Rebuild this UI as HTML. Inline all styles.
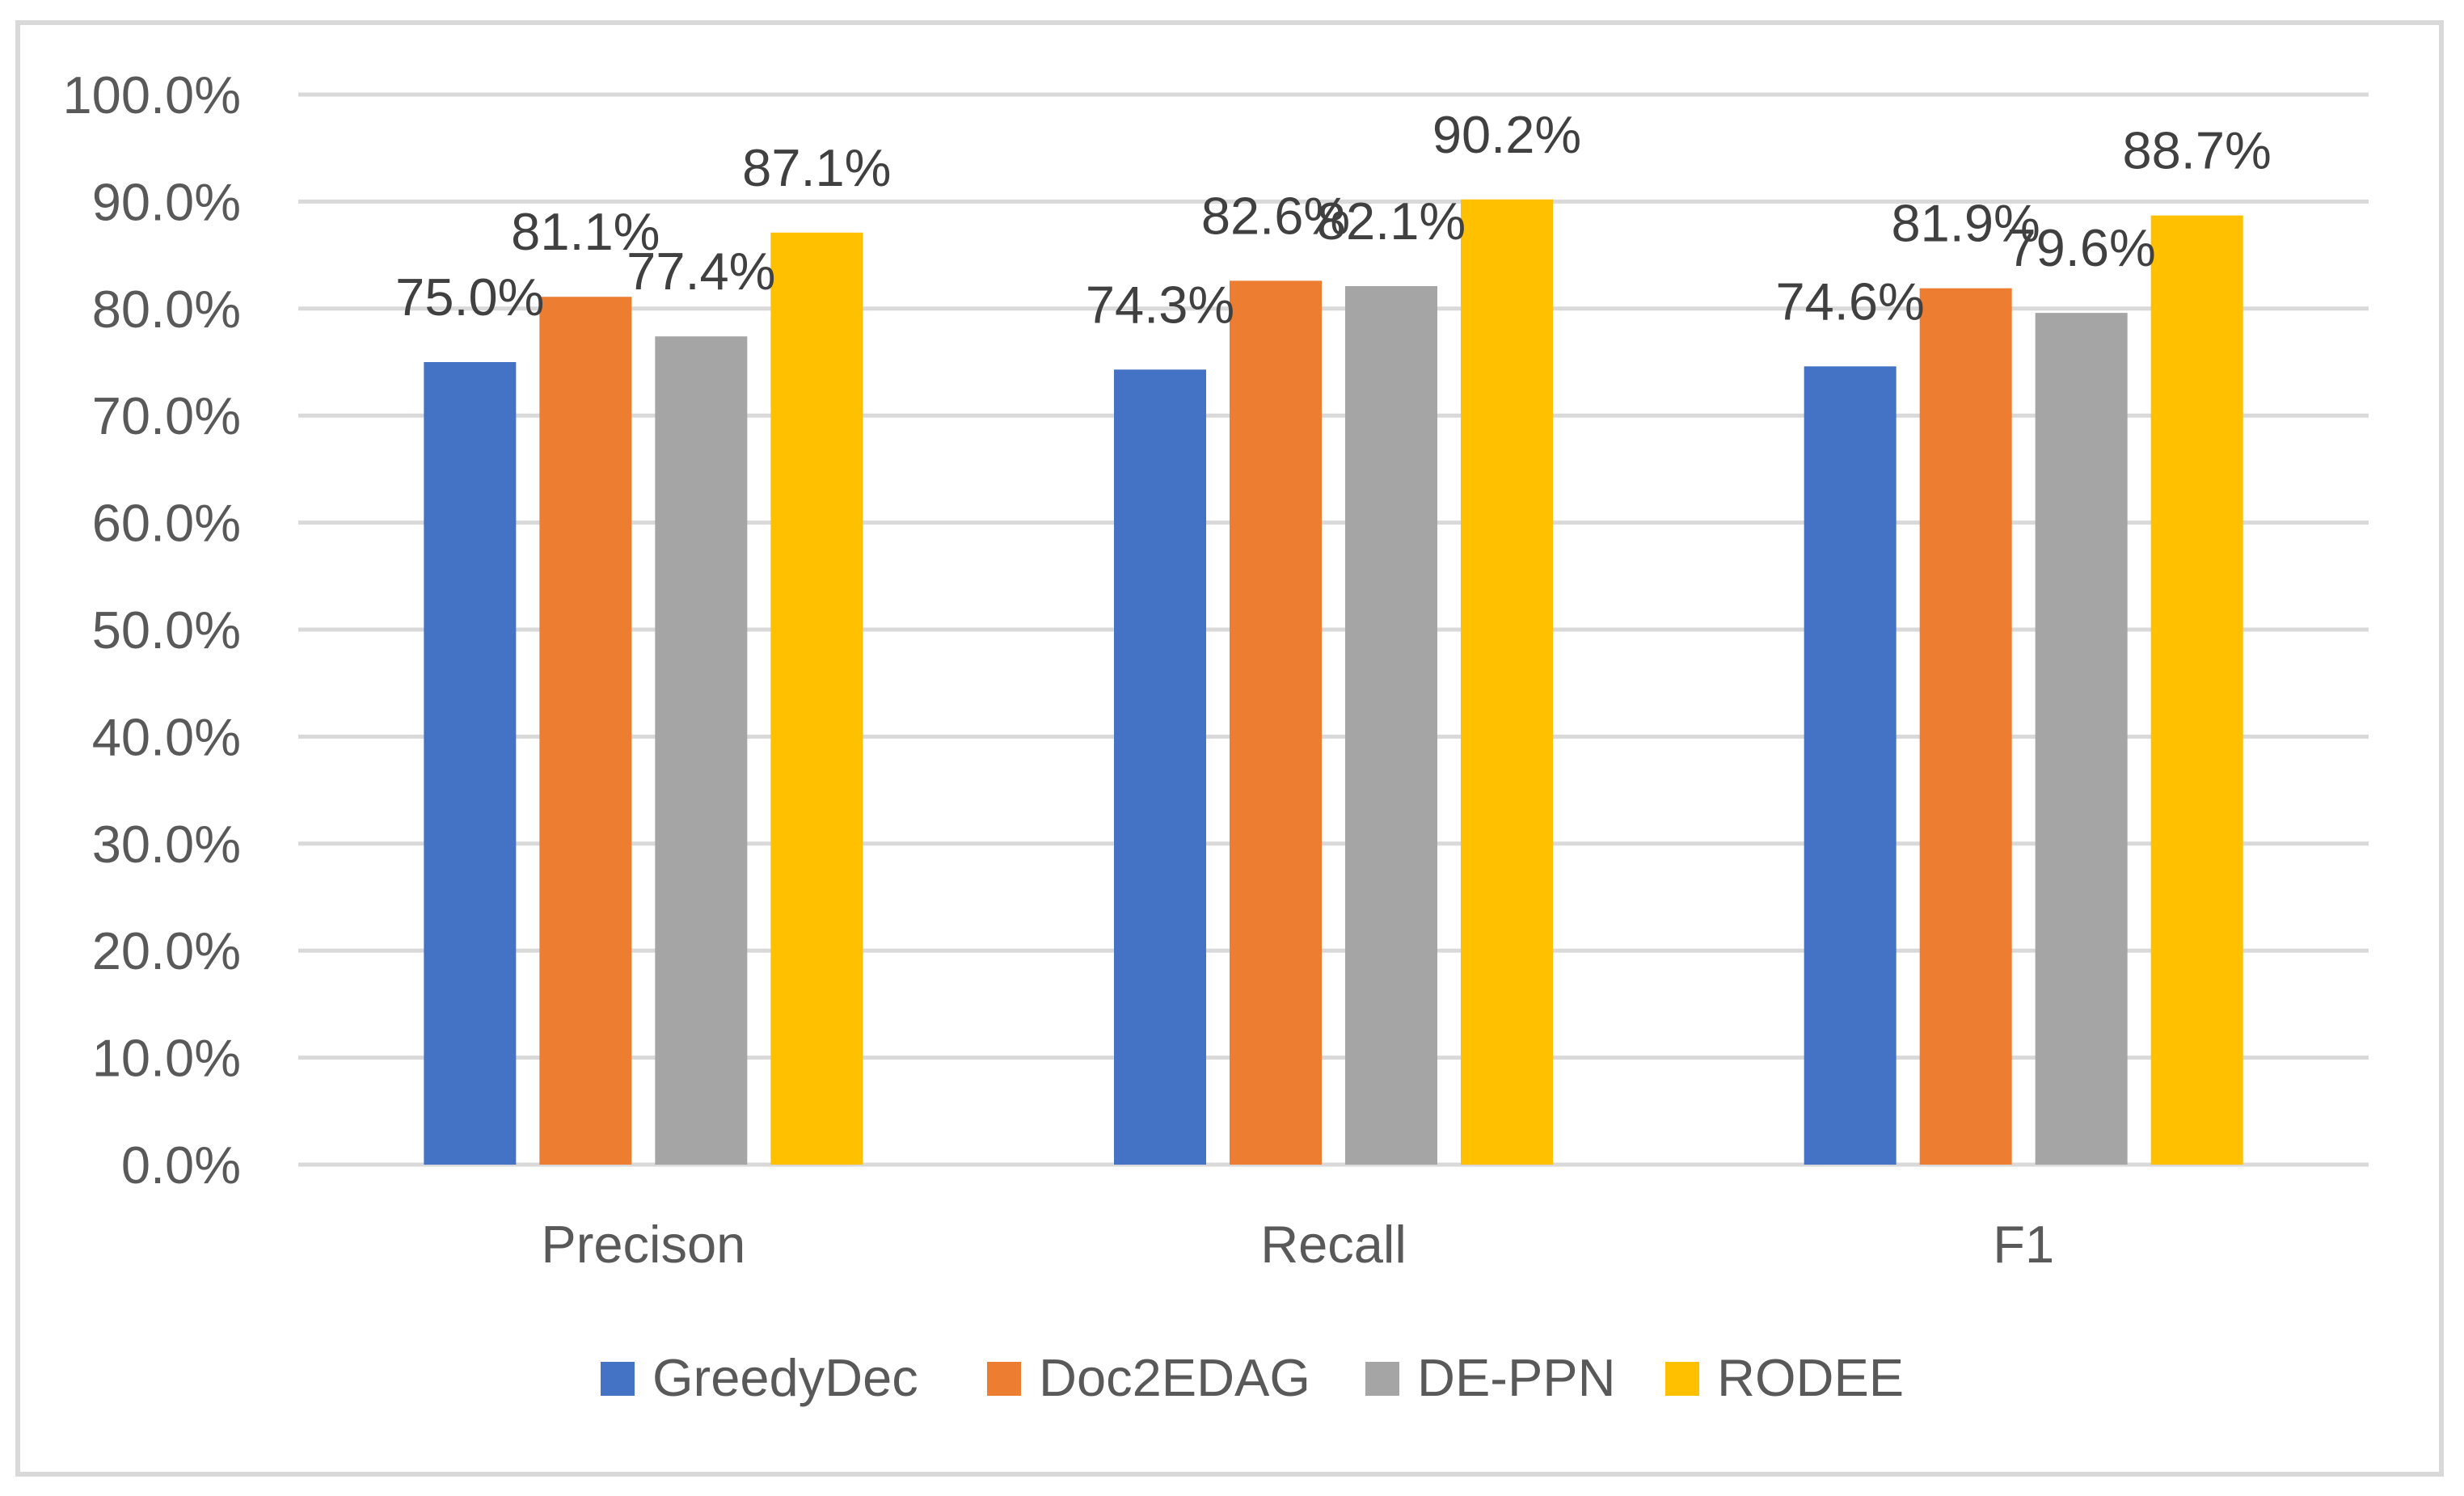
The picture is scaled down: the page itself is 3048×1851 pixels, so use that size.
<!DOCTYPE html>
<html><head><meta charset="utf-8"><style>
html,body{margin:0;padding:0;background:#fff;}
svg{display:block;}
text{font-family:"Liberation Sans",sans-serif;}
</style></head><body>
<svg id="chart" width="3048" height="1851" viewBox="0 0 3048 1851" xmlns="http://www.w3.org/2000/svg">
<rect x="22" y="28" width="2998" height="1796" fill="#fff" stroke="#d9d9d9" stroke-width="6"/>
<g id="grid"></g><g id="yticks"></g><g id="bars"></g><g id="labels"></g><g id="xcats"></g><g id="legend"></g>
</svg>
<script>
const categories = ["Precison", "Recall", "F1"];
const seriesNames = ["GreedyDec", "Doc2EDAG", "DE-PPN", "RODEE"];
const greedyDec = [75.0, 74.3, 74.6];
const doc2edag = [81.1, 82.6, 81.9];
const deppn = [77.4, 82.1, 79.6];
const rodee = [87.1, 90.2, 88.7];
const yTicks = [0, 10, 20, 30, 40, 50, 60, 70, 80, 90, 100];
const colors = ["#4472c4", "#ed7d31", "#a5a5a5", "#ffc000"];
const series = [greedyDec, doc2edag, deppn, rodee];

const NS = "http://www.w3.org/2000/svg";
const plotL = 369, plotR = 2930, y0 = 1441, y100 = 117;
function yScale(v){ return y0 - (v/100)*(y0 - y100); }
const catW = (plotR - plotL)/categories.length;
function catCenter(i){ return plotL + catW*(i+0.5); }
const barW = 114, barPitch = 143;
function barX(ci, si){ return catCenter(ci) - (series.length*barPitch - (barPitch-barW))/2 + si*barPitch; }
function mk(tag, attrs, parent){ const e=document.createElementNS(NS,tag); for(const k in attrs) e.setAttribute(k,attrs[k]); parent.appendChild(e); return e; }

const grid=document.getElementById('grid'), yt=document.getElementById('yticks');
yTicks.forEach(t=>{
  const l=mk('rect',{x:plotL,y:yScale(t)-2.5,width:plotR-plotL,height:5,fill:'#d9d9d9'},grid);
  
  
  const tx=mk('text',{x:298,y:yScale(t)+23,'text-anchor':'end','font-size':65,fill:'#595959'},yt);
  tx.textContent=t.toFixed(1)+'%';
  
  
});
const bars=document.getElementById('bars'), labels=document.getElementById('labels');
series.forEach((s,si)=>{
  s.forEach((v,ci)=>{
    const x=barX(ci,si), y=yScale(v);
    const r=mk('rect',{x:x,y:y,width:barW,height:y0-y,fill:colors[si]},bars);
    
    
    const t=mk('text',{x:x+barW/2,y:y-58,'text-anchor':'middle','font-size':65,fill:'#404040'},labels);
    t.textContent=v.toFixed(1)+'%';
    
    
  });
});
const xc=document.getElementById('xcats');
categories.forEach((c,i)=>{
  const t=mk('text',{x:catCenter(i),y:1562,'text-anchor':'middle','font-size':65,fill:'#595959'},xc);
  t.textContent=c;
  
  
});
const lg=document.getElementById('legend');
const legX=[743,1221,1689,2060];
seriesNames.forEach((n,i)=>{
  const g=mk('g',{},lg);
  
  
  mk('rect',{x:legX[i],y:1685,width:42,height:42,fill:colors[i]},g);
  const t=mk('text',{x:legX[i]+64,y:1727,'font-size':65,fill:'#595959'},g);
  t.textContent=n;
});
</script>
</body></html>
